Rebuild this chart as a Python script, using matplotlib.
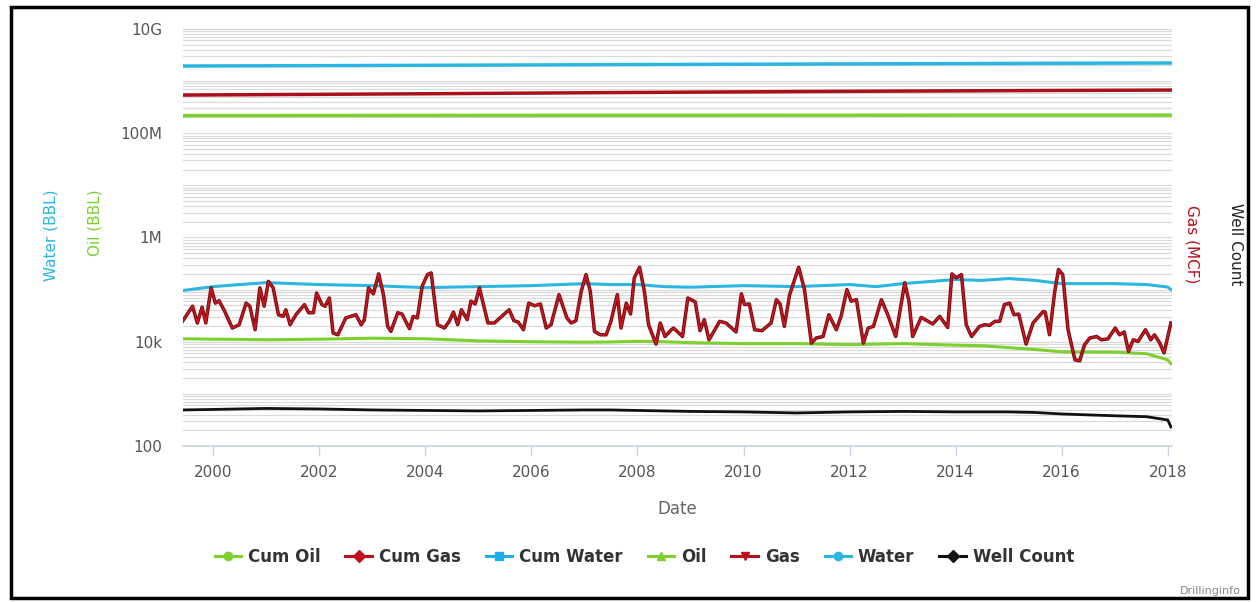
import matplotlib
matplotlib.use("Agg")
import matplotlib.pyplot as plt
import matplotlib.patheffects as pe
from matplotlib.ticker import FixedLocator, LogLocator, NullFormatter
from matplotlib.lines import Line2D
import numpy as np

# ---- data (dates as decimal years) ----
# monthly gas, thousand MCF
gas_year = [1999.42, 1999.61, 1999.70, 1999.79, 1999.86, 1999.96, 2000.04, 2000.11, 2000.21, 2000.36,
            2000.49, 2000.62, 2000.69, 2000.79, 2000.88, 2000.96, 2001.04, 2001.13, 2001.23, 2001.32,
            2001.37, 2001.45, 2001.56, 2001.72, 2001.80, 2001.89, 2001.95, 2002.05, 2002.11, 2002.19,
            2002.26, 2002.35, 2002.50, 2002.69, 2002.79, 2002.85, 2002.93, 2003.02, 2003.12, 2003.21,
            2003.29, 2003.35, 2003.48, 2003.56, 2003.70, 2003.77, 2003.85, 2003.94, 2004.04, 2004.11,
            2004.23, 2004.36, 2004.45, 2004.53, 2004.61, 2004.68, 2004.79, 2004.86, 2004.94, 2005.02,
            2005.18, 2005.30, 2005.58, 2005.67, 2005.75, 2005.85, 2005.95, 2006.06, 2006.17, 2006.28,
            2006.37, 2006.52, 2006.67, 2006.75, 2006.84, 2006.94, 2007.03, 2007.11, 2007.19, 2007.30,
            2007.41, 2007.50, 2007.62, 2007.69, 2007.79, 2007.87, 2007.94, 2008.04, 2008.13, 2008.21,
            2008.35, 2008.43, 2008.52, 2008.64, 2008.68, 2008.85, 2008.95, 2009.09, 2009.18, 2009.26,
            2009.35, 2009.55, 2009.67, 2009.86, 2009.96, 2010.02, 2010.11, 2010.21, 2010.35, 2010.52,
            2010.62, 2010.69, 2010.77, 2010.87, 2011.04, 2011.15, 2011.28, 2011.37, 2011.50, 2011.61,
            2011.75, 2011.84, 2011.95, 2012.03, 2012.13, 2012.26, 2012.35, 2012.45, 2012.60, 2012.72,
            2012.87, 2013.04, 2013.12, 2013.19, 2013.35, 2013.48, 2013.57, 2013.70, 2013.85, 2013.93,
            2014.01, 2014.11, 2014.20, 2014.30, 2014.45, 2014.55, 2014.64, 2014.74, 2014.83, 2014.92,
            2015.02, 2015.10, 2015.19, 2015.33, 2015.46, 2015.57, 2015.65, 2015.69, 2015.77, 2015.87,
            2015.94, 2016.02, 2016.12, 2016.25, 2016.34, 2016.43, 2016.53, 2016.66, 2016.75, 2016.87,
            2017.01, 2017.09, 2017.18, 2017.26, 2017.35, 2017.44, 2017.58, 2017.68, 2017.75, 2017.85,
            2017.93, 2018.06]
gas_k = [24.6, 48, 22.9, 46, 22.9, 108, 55, 61, 39.5, 18.3,
         21.2, 55, 48, 17, 108, 48, 144, 108, 33, 30.7,
         41, 21.2, 33, 51.5, 36, 36, 86, 51.5, 48, 69,
         14.7, 13.6, 28.6, 33, 21.2, 26.5, 108, 83, 200, 80,
         19.7, 15.8, 36, 34, 17.8, 30.7, 28.6, 116, 194, 209,
         21.2, 18.3, 24.6, 37, 21.2, 41, 26.5, 60, 53, 108,
         22.9, 22.9, 41, 25.3, 23.9, 17, 55, 49, 53, 18.3,
         21.2, 80, 28.6, 22.9, 25.3, 93, 194, 93, 15.8, 13.6,
         13.6, 24.6, 80, 18.3, 55, 34, 168, 268, 93, 21.2,
         9.0, 22.9, 12.6, 17, 18.3, 12.6, 69, 58, 16.3, 26.5,
         10.9, 24.6, 22.9, 15.4, 83, 51.5, 53, 17, 16.3, 22.9,
         64, 53, 19.7, 80, 268, 100, 9.4, 11.8, 12.6, 33,
         17, 30.7, 100, 60, 64, 9.4, 18.3, 19.7, 64, 33,
         12.6, 135, 60, 12.6, 29.3, 24.6, 21.9, 30.7, 18.8, 200,
         168, 194, 21.2, 12.6, 19.7, 21.2, 20.6, 24.6, 24.6, 51.5,
         55, 33, 34, 9.0, 22.9, 30.7, 38, 37, 13.6, 93,
         243, 194, 17, 4.5, 4.3, 8.7, 11.8, 12.6, 10.9, 11.3,
         18.3, 13.6, 15.4, 6.5, 10.9, 10.1, 17, 10.9, 13.6, 9.4,
         6.1, 22.9]

# monthly water and oil (thousand BBL), well count
mon_year = [1999.42, 2000.0, 2000.5, 2001.0, 2002.0, 2003.0, 2004.0, 2005.0, 2006.0, 2007.0,
            2007.5, 2008.0, 2008.5, 2009.0, 2010.0, 2011.0, 2012.0, 2012.5, 2013.0, 2014.0,
            2014.5, 2015.0, 2015.5, 2016.0, 2017.0, 2017.6, 2018.0, 2018.06]
water_k = [96, 114, 125, 136, 125, 119, 109, 114, 119, 130,
           125, 125, 114, 111, 119, 114, 125, 114, 130, 156,
           150, 163, 150, 130, 130, 125, 112, 100]
oil_k = [11.4, 11.2, 11.1, 10.9, 11.2, 11.7, 11.4, 10.4, 10.0, 9.8,
         9.9, 10.2, 10.0, 9.6, 9.2, 9.2, 8.8, 9.0, 9.2, 8.6,
         8.4, 7.7, 7.1, 6.4, 6.3, 5.9, 4.5, 3.8]
well_count = [492, 503, 515, 526, 514, 492, 481, 471, 481, 492,
              492, 481, 471, 461, 451, 431, 451, 456, 461, 451,
              451, 451, 440, 412, 380, 365, 316, 232]

# cumulative volumes
cum_year = [1999.42, 2004.0, 2008.0, 2012.0, 2016.0, 2018.06]
cum_oil = [2.17e8, 2.19e8, 2.20e8, 2.21e8, 2.22e8, 2.22e8]
cum_gas = [5.38e8, 5.70e8, 6.05e8, 6.35e8, 6.60e8, 6.71e8]
cum_water = [1.94e9, 2.00e9, 2.07e9, 2.13e9, 2.19e9, 2.22e9]

year_ticks = [2000, 2002, 2004, 2006, 2008, 2010, 2012, 2014, 2016, 2018]
y_ticks = [1e2, 1e4, 1e6, 1e8, 1e10]
y_tick_labels = ["100", "10k", "1M", "100M", "10G"]

legend_names = ["Cum Oil", "Cum Gas", "Cum Water", "Oil", "Gas", "Water", "Well Count"]

# colours
c_oil = "#7ed030"
c_gas = "#b8101c"
c_water = "#2cb5e0"
c_well = "#111111"

fig = plt.figure(figsize=(12.56, 6.02), dpi=100, facecolor="white")
ax = fig.add_axes([0.1457, 0.2591, 0.9331 - 0.1457, 0.952 - 0.2591])

# cumulative lines
ax.plot(cum_year, cum_water, color=c_water, lw=2.5)
ax.plot(cum_year, cum_gas, color="#a8101c", lw=2.5)
ax.plot(cum_year, cum_oil, color=c_oil, lw=2.5)

# monthly lines
ax.plot(mon_year, np.array(water_k) * 1000, color=c_water, lw=2.2)
ax.plot(mon_year, np.array(oil_k) * 1000, color=c_oil, lw=2.2)
ax.plot(mon_year, well_count, color=c_well, lw=2.0)
ax.plot(gas_year, np.array(gas_k) * 1000, color="#cc1520", lw=1.2,
        path_effects=[pe.Stroke(linewidth=2.5, foreground="#6a0a0a"), pe.Normal()])

ax.set_yscale("log")
ax.set_ylim(1e2, 1e10)
ax.set_xlim(1999.43, 2018.08)

ax.yaxis.set_major_locator(FixedLocator(y_ticks))
ax.set_yticklabels(y_tick_labels)
ax.yaxis.set_minor_locator(LogLocator(base=10, subs=np.arange(1, 10), numticks=100))
ax.yaxis.set_minor_formatter(NullFormatter())
ax.grid(True, which="both", axis="y", color="#dadada", lw=0.9)
ax.set_axisbelow(True)
ax.tick_params(axis="y", which="both", length=0, pad=15, labelsize=11, labelcolor="#555555")

ax.set_xticks(year_ticks)
ax.set_xticklabels([str(y) for y in year_ticks])
ax.tick_params(axis="x", length=7, width=1, color="#c8d4e2", pad=7, labelsize=11,
               labelcolor="#555555")

for s in ["top", "left", "right"]:
    ax.spines[s].set_visible(False)
ax.spines["bottom"].set_color("#c8d4e2")
ax.spines["bottom"].set_linewidth(1.2)

ax.set_xlabel("Date", fontsize=12, color="#666666", labelpad=14)

# axis titles on both sides
fig.text(0.041, 0.61, "Water (BBL)", rotation=90, color=c_water, fontsize=11, ha="center", va="center")
fig.text(0.076, 0.63, "Oil (BBL)", rotation=90, color=c_oil, fontsize=11, ha="center", va="center")
fig.text(0.949, 0.595, "Gas (MCF)", rotation=270, color=c_gas, fontsize=11, ha="center", va="center")
fig.text(0.984, 0.595, "Well Count", rotation=270, color="#222222", fontsize=11, ha="center", va="center")

# legend
markers = ["o", "D", "s", "^", "v", "o", "D"]
colors = [c_oil, "#c0101c", "#1cb0e8", c_oil, c_gas, c_water, c_well]
handles = [Line2D([], [], color=c, marker=m, markersize=6, lw=2.2)
           for c, m in zip(colors, markers)]
fig.legend(handles, legend_names, loc="center", bbox_to_anchor=(0.513, 0.075), ncol=7,
           frameon=False, handlelength=1.6, handletextpad=0.4, columnspacing=1.5,
           prop={"weight": "bold", "size": 12}, labelcolor="#333333")

fig.text(0.988, 0.018, "Drillinginfo", fontsize=8, color="#888888", ha="right", va="center")

# outer frame
fig.patches.append(plt.Rectangle((0.009, 0.007), 0.985, 0.982, transform=fig.transFigure,
                                 fill=False, edgecolor="black", lw=2.5))

fig.savefig("out.png", dpi=100)
